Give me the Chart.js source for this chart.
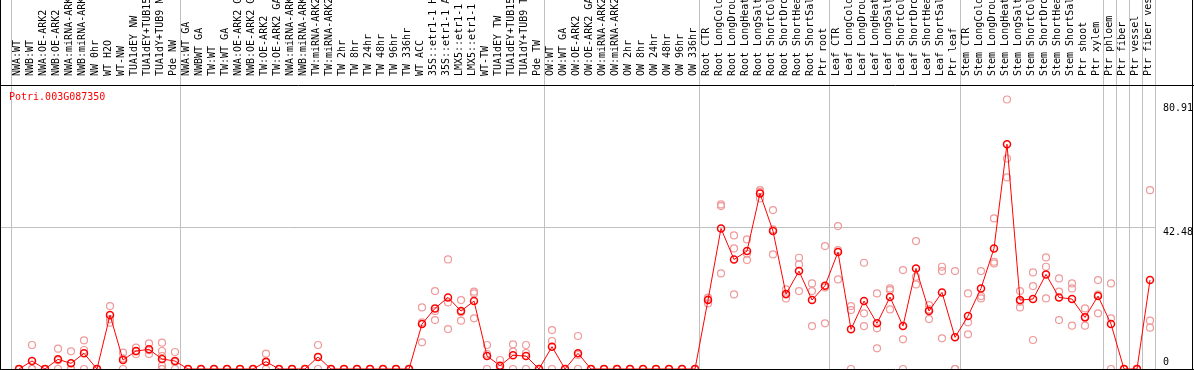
<!DOCTYPE html>
<html>
<head>
<meta charset="utf-8">
<script src="https://cdn.jsdelivr.net/npm/chart.js@4.4.1/dist/chart.umd.min.js"></script>
<style>
  html, body { margin: 0; padding: 0; background: #fff; }
</style>
</head>
<body>
<canvas id="chart" width="1194" height="370"></canvas>
<script>
// === data ===

const geneId = "Potri.003G087350";

const categories = [
  // group 1
  "NWA:WT", "NWB:WT", "NWA:OE-ARK2", "NWB:OE-ARK2", "NWA:miRNA-ARK2", "NWB:miRNA-ARK2",
  "NW 0hr", "WT H2O", "WT-NW", "TUA1dEY NW", "TUA1dEY+TUB15 NW", "TUA1dY+TUB9 NW", "Pde NW",
  // group 2
  "NWA:WT GA", "NWBWT GA", "TW:WT", "TW:WT GA", "NWA:OE-ARK2 GA", "NWB:OE-ARK2 GA",
  "TW:OE-ARK2", "TW:OE-ARK2 GA", "NWA:miRNA-ARK2 GA", "NWB:miRNA-ARK2 GA", "TW:miRNA-ARK2",
  "TW:miRNA-ARK2 GA", "TW 2hr", "TW 8hr", "TW 24hr", "TW 48hr", "TW 96hr", "TW 336hr",
  "WT ACC", "35S::etr1-1 H2O", "35S::etr1-1 ACC", "LMX5::etr1-1 H2O", "LMX5::etr1-1 ACC",
  "WT-TW", "TUA1dEY TW", "TUA1dEY+TUB15 TW", "TUA1dY+TUB9 TW", "Pde TW",
  // group 3
  "OW:WT", "OW:WT GA", "OW:OE-ARK2", "OW:OE-ARK2 GA", "OW:miRNA-ARK2", "OW:miRNA-ARK2 GA",
  "OW 2hr", "OW 8hr", "OW 24hr", "OW 48hr", "OW 96hr", "OW 336hr",
  // root
  "Root CTR", "Root LongCold", "Root LongDrought", "Root LongHeat", "Root LongSalt",
  "Root ShortCold", "Root ShortDrought", "Root ShortHeat", "Root ShortSalt", "Ptr root",
  // leaf
  "Leaf CTR", "Leaf LongCold", "Leaf LongDrought", "Leaf LongHeat", "Leaf LongSalt",
  "Leaf ShortCold", "Leaf ShortDrought", "Leaf ShortHeat", "Leaf ShortSalt", "Ptr leaf",
  // stem
  "Stem CTR", "Stem LongCold", "Stem LongDrought", "Stem LongHeat", "Stem LongSalt",
  "Stem ShortCold", "Stem ShortDrought", "Stem ShortHeat", "Stem ShortSalt", "Ptr shoot", "Ptr xylem",
  // single tissues
  "Ptr phloem", "Ptr fiber", "Ptr vessel", "Ptr fiber vessel"
];

// index where each group begins (last entry = end)
const groupStarts = [0, 13, 41, 53, 63, 73, 84, 85, 86, 87, 88];

const meanValues = [
  0, 2.4, 0, 2.9, 1.7, 4.7, 0, 16.2, 2.7, 5.4, 5.9, 3.0, 2.4,
  0, 0, 0, 0, 0, 0, 2.2, 0, 0, 0, 3.6, 0, 0, 0, 0, 0, 0, 0,
  13.5, 18.2, 21.5, 17.4, 20.4, 3.9, 1.0, 4.1, 3.9, 0,
  6.7, 0, 4.7, 0, 0, 0, 0, 0, 0, 0, 0, 0,
  20.7, 42.2, 32.9, 35.4, 52.7, 41.4, 22.5, 29.4, 20.7, 25.0,
  35.1, 11.9, 20.4, 13.7, 21.6, 12.9, 30.2, 17.4, 23.0, 9.5,
  15.9, 24.2, 36.2, 67.5, 20.7, 21.0, 28.4, 21.5, 21.0, 15.5, 21.9,
  13.5, 0, 0, 26.7
];

const replicateValues = [
  [0, 0, 0], [7.2, 0, 0], [0, 0, 0], [6.1, 2.6, 0], [5.3, 0, 0], [8.6, 5.7, 0], [0, 0, 0],
  [18.9, 14.9, 13.9], [4.9, 3.2, 0], [6.4, 5.3, 4.5], [7.7, 5.6, 4.5], [7.9, 5.4, 3.9, 1.0, 0, 0], [5.1, 2.1, 0],
  [0, 0, 0], [0, 0, 0], [0, 0, 0], [0, 0, 0], [0, 0, 0], [0, 0, 0], [4.6, 2.0, 0], [0, 0, 0],
  [0, 0, 0], [0, 0, 0], [7.2, 3.6, 0], [0, 0, 0], [0, 0, 0], [0, 0, 0], [0, 0, 0], [0, 0, 0],
  [0, 0, 0], [0, 0, 0],
  [18.5, 14.0, 8.0], [23.4, 17.4, 14.7], [32.9, 20.0, 12.0], [20.7, 17.0, 14.5], [23.2, 22.7, 15.2],
  [7.2, 4.5, 0], [2.7, 0, 0], [7.4, 5.2, 0], [7.2, 4.8, 0], [0, 0, 0],
  [11.7, 8.4, 0], [0, 0, 0], [9.9, 4.2, 0], [0, 0, 0], [0, 0, 0], [0, 0, 0], [0, 0, 0], [0, 0, 0],
  [0, 0, 0], [0, 0, 0], [0, 0, 0], [0, 0, 0],
  [21.4, 20.9, 19.7], [49.4, 48.9, 28.7], [40.1, 36.2, 22.4], [38.9, 34.6, 32.7], [53.7, 53.2, 51.2],
  [47.7, 41.9, 34.4], [23.9, 22.4, 21.2], [33.4, 31.4, 23.4], [25.7, 23.4, 12.9], [36.9, 24.5, 13.7],
  [42.9, 35.7, 26.9], [18.9, 17.7, 0], [31.9, 16.7, 12.9], [22.7, 12.2, 6.2], [24.2, 23.7, 17.9],
  [29.7, 8.9, 0], [38.4, 27.7, 25.4], [19.2, 17.9, 15.0], [30.7, 29.4, 9.2], [29.4, 0, 0],
  [22.7, 14.0, 10.4], [29.4, 21.9, 21.2], [45.2, 32.2, 31.7], [80.91, 63.2, 57.5], [23.4, 20.2, 18.5],
  [29.0, 24.9, 8.7], [33.5, 30.7, 21.2], [27.2, 23.2, 14.7], [25.7, 24.2, 13.0], [18.2, 15.5, 13.0],
  [26.7, 22.3, 16.7],
  [25.7, 15.2, 0], [0, 0, 0], [0, 0, 0], [53.7, 14.5, 12.4]
];

const yTicks = [0, 42.48, 80.91];
const yGridTicks = [42.48];
const yMax = 84.96;

// === layout helpers ===

const FONT = '"DejaVu Sans Mono", monospace';
const GRID_GREY = "#c0c0c0";
const X_MIN = -10 / 13;            // small margin left of the first group line
const POINT_SHIFT = 8 / 13;        // where the marker sits inside its column
const LABEL_SHIFT = 0.5 + 11.5 / 13; // rotated labels are drawn one line-height left of the tick

const meanPoints = meanValues.map((v, i) => ({ x: i + POINT_SHIFT, y: v }));
const repPoints = replicateValues.flatMap((reps, i) =>
  reps.map((v) => ({ x: i + POINT_SHIFT, y: v }))
);

// frame + gene id
const framePlugin = {
  id: "frame",
  afterDraw(chart) {
    const { ctx, chartArea, width } = chart;
    ctx.save();
    ctx.strokeStyle = "#000";
    ctx.lineWidth = 1;
    ctx.beginPath();
    ctx.moveTo(0, chartArea.top - 0.5);
    ctx.lineTo(width, chartArea.top - 0.5);
    ctx.moveTo(0, chartArea.bottom + 0.5);
    ctx.lineTo(width, chartArea.bottom + 0.5);
    ctx.moveTo(0.5, 0);
    ctx.lineTo(0.5, chart.height);
    ctx.moveTo(width - 1.5, 0);
    ctx.lineTo(width - 1.5, chart.height);
    ctx.stroke();

    ctx.fillStyle = "#ff0000";
    ctx.font = "10px " + FONT;
    ctx.textBaseline = "middle";
    ctx.fillText(geneId, 9, chartArea.top + 11);
    ctx.restore();
  },
};

// === chart ===

new Chart(document.getElementById("chart"), {
  type: "line",
  data: {
    datasets: [
      {
        label: "mean",
        data: meanPoints,
        xAxisID: "xg",
        borderColor: "#ff0000",
        borderWidth: 1,
        tension: 0,
        pointRadius: 3.5,
        pointBorderWidth: 1.5,
        pointBorderColor: "#ff0000",
        pointBackgroundColor: "rgba(0,0,0,0)",
      },
      {
        label: "replicates",
        data: repPoints,
        xAxisID: "xg",
        showLine: false,
        pointRadius: 3.5,
        pointBorderWidth: 1.2,
        pointBorderColor: "#ef9a9a",
        pointBackgroundColor: "rgba(0,0,0,0)",
      },
    ],
  },
  options: {
    responsive: false,
    animation: false,
    devicePixelRatio: 1,
    layout: { autoPadding: false, padding: { left: 1, right: 0, top: 0, bottom: 1 } },
    plugins: { legend: { display: false }, tooltip: { enabled: false } },
    scales: {
      x: {
        type: "linear",
        position: "top",
        weight: 1,
        min: X_MIN,
        max: categories.length,
        afterBuildTicks: (scale) => {
          scale.ticks = categories.map((c, i) => ({ value: i + LABEL_SHIFT }));
        },
        afterFit: (scale) => {
          scale.height = 86;
          scale.paddingLeft = 0;
          scale.paddingRight = 0;
        },
        grid: { display: false },
        border: { display: false },
        ticks: {
          autoSkip: false,
          minRotation: 90,
          maxRotation: 90,
          padding: 2,
          color: "#000",
          font: { family: FONT, size: 10 },
          callback: (v, i) => categories[i],
        },
      },
      xg: {
        type: "linear",
        position: "top",
        weight: 0,
        min: X_MIN,
        max: categories.length,
        afterBuildTicks: (scale) => {
          scale.ticks = groupStarts.map((g) => ({ value: g }));
        },
        afterFit: (scale) => {
          scale.height = 0;
          scale.paddingLeft = 0;
          scale.paddingRight = 0;
        },
        grid: {
          color: GRID_GREY,
          lineWidth: 1,
          drawTicks: true,
          tickLength: 86,
          tickColor: GRID_GREY,
        },
        border: { display: false },
        ticks: { display: false },
      },
      y: {
        type: "linear",
        position: "right",
        min: 0,
        max: yMax,
        afterBuildTicks: (scale) => {
          scale.ticks = yTicks.map((v) => ({ value: v }));
        },
        afterFit: (scale) => {
          scale.width = 39;
          scale.paddingTop = 0;
          scale.paddingBottom = 0;
        },
        grid: {
          drawTicks: false,
          color: (ctx) =>
            ctx.tick && yGridTicks.includes(ctx.tick.value) ? GRID_GREY : "rgba(0,0,0,0)",
        },
        border: { color: GRID_GREY },
        ticks: {
          padding: 8,
          color: "#000",
          font: (ctx) => {
            const v = ctx.tick ? ctx.tick.value : 0;
            const lh = v === 0 ? "14px" : v === 42.48 ? "9px" : "17px";
            return { family: FONT, size: 10, lineHeight: lh };
          },
          callback: (v) => (v === 0 ? ["0", ""] : ["", v.toFixed(2)]),
        },
      },
    },
  },
  plugins: [framePlugin],
});
</script>
</body>
</html>
